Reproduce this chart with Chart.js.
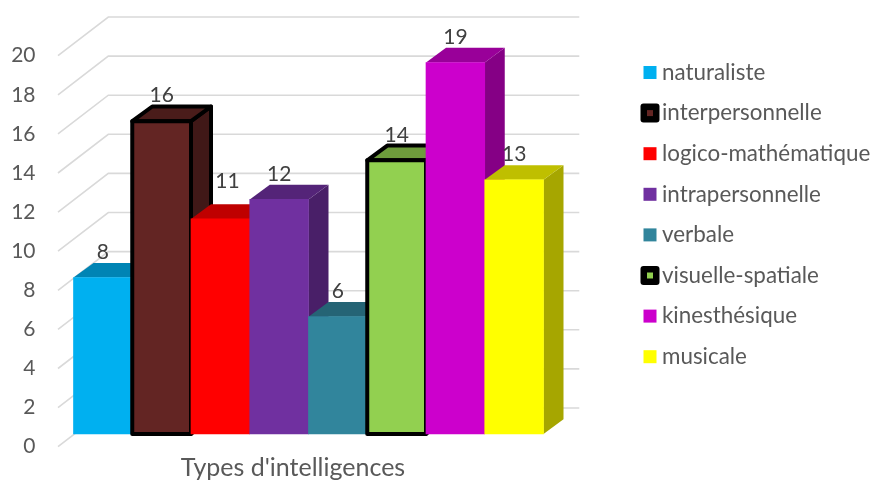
<!DOCTYPE html>
<html>
<head>
<meta charset="utf-8">
<title>Types d'intelligences</title>
<script src="https://cdn.jsdelivr.net/npm/chart.js@4/dist/chart.umd.min.js"></script>
<style>
  html, body { margin: 0; padding: 0; background: #fff; }
  canvas { display: block; }
</style>
</head>
<body>
<canvas id="chart" width="873" height="481"></canvas>
<script>
const categories = ["Types d'intelligences"];
const seriesNames = ['naturaliste', 'interpersonnelle', 'logico-mathématique', 'intrapersonnelle', 'verbale', 'visuelle-spatiale', 'kinesthésique', 'musicale'];
const seriesValues = [8, 16, 11, 12, 6, 14, 19, 13];
const seriesColors = ['#00B0F0', '#632523', '#FF0000', '#7030A0', '#31859C', '#92D050', '#CC00CC', '#FFFF00'];
const outlinedSeries = ['interpersonnelle', 'visuelle-spatiale'];

const fontName = 'Lato, "Open Sans", sans-serif';
const depthX = 20, depthY = 14.7;

function shade(hex, k) {
    const n = parseInt(hex.slice(1), 16);
    const r = Math.round((n >> 16) * k);
    const g = Math.round(((n >> 8) & 255) * k);
    const b = Math.round((n & 255) * k);
    return `rgb(${r},${g},${b})`;
}

function poly(ctx, pts, fill, outlined) {
    ctx.beginPath();
    pts.forEach((p, i) => i ? ctx.lineTo(p[0], p[1]) : ctx.moveTo(p[0], p[1]));
    ctx.closePath();
    ctx.fillStyle = fill;
    ctx.fill();
    if (outlined) {
        ctx.strokeStyle = '#000';
        ctx.lineWidth = 4;
        ctx.lineJoin = 'round';
        ctx.stroke();
    }
}

function drawWalls(chart) {
    const { ctx, chartArea, scales } = chart;
    ctx.strokeStyle = '#D9D9D9';
    ctx.lineWidth = 1.6;
    scales.y.ticks.forEach(tick => {
        const y = scales.y.getPixelForValue(tick.value);
        ctx.beginPath();
        ctx.moveTo(chartArea.left - 15.5, y + 12.7);
        ctx.lineTo(chartArea.left + 34.8, y - 26);
        ctx.lineTo(chartArea.right + 35.8, y - 26);
        ctx.stroke();
    });
}

// Chart.js paints datasets right to left, the boxes have to overlap the other way
const box3dPlugin = {
    id: 'box3d',
    beforeDatasetsDraw(chart) {
        const { ctx } = chart;
        ctx.save();
        drawWalls(chart);
        seriesNames.forEach((name, i) => {
            const meta = chart.getDatasetMeta(i);
            const bar = meta.data[0];
            const outlined = outlinedSeries.includes(name);
            const l = bar.x - bar.width / 2, r = bar.x + bar.width / 2;
            poly(ctx, [[r, bar.base], [r + depthX, bar.base - depthY], [r + depthX, bar.y - depthY], [r, bar.y]], shade(seriesColors[i], 0.65), outlined);
            poly(ctx, [[l, bar.y], [l + depthX, bar.y - depthY], [r + depthX, bar.y - depthY], [r, bar.y]], shade(seriesColors[i], 0.75), outlined);
            meta.controller.draw();
            if (outlined) {
                ctx.strokeStyle = '#000';
                ctx.lineWidth = 4;
                ctx.lineJoin = 'round';
                ctx.strokeRect(l, bar.y, bar.width, bar.base - bar.y);
            }
        });

        ctx.font = '21px ' + fontName;
        ctx.fillStyle = '#404040';
        ctx.textAlign = 'center';
        ctx.textBaseline = 'middle';
        seriesValues.forEach((v, i) => {
            const bar = chart.getDatasetMeta(i).data[0];
            // the "11" label was moved by hand in the original
            const shiftX = i === 2 ? 7 : 0, shiftY = i === 2 ? -12 : 0;
            ctx.fillText(String(v), bar.x + shiftX, bar.y - 25.5 + shiftY);
        });
        ctx.restore();
        return false;
    }
};

const legendPlugin = {
    id: 'sideLegend',
    afterDraw(chart) {
        const { ctx } = chart;
        ctx.save();
        ctx.font = '22.4px ' + fontName;
        ctx.textBaseline = 'middle';
        seriesNames.forEach((name, i) => {
            const y = 72.5 + i * 40.6;
            if (outlinedSeries.includes(name)) {
                ctx.fillStyle = '#000';
                ctx.beginPath();
                ctx.roundRect(640.5, y - 9.5, 19, 19, 3);
                ctx.fill();
                ctx.fillStyle = seriesColors[i];
                ctx.fillRect(647, y - 3, 6, 6);
            } else {
                ctx.fillStyle = seriesColors[i];
                ctx.fillRect(643.5, y - 6.5, 13, 13);
            }
            ctx.fillStyle = '#595959';
            ctx.fillText(name, 662, y);
        });
        ctx.restore();
    }
};

new Chart(document.getElementById('chart').getContext('2d'), {
    type: 'bar',
    data: {
        labels: categories,
        datasets: seriesNames.map((name, i) => ({
            label: name,
            data: [seriesValues[i]],
            backgroundColor: seriesColors[i],
            borderWidth: 0
        }))
    },
    options: {
        responsive: false,
        animation: false,
        layout: { padding: { top: 43, right: 329.5, left: 0, bottom: 0 } },
        plugins: { legend: { display: false }, tooltip: { enabled: false }, title: { display: false } },
        datasets: { bar: { barPercentage: 1, categoryPercentage: 1 } },
        scales: {
            x: {
                grid: { display: false, drawTicks: false },
                border: { display: false },
                ticks: {
                    color: '#595959',
                    font: { family: fontName, size: 25 },
                    labelOffset: -15.5,
                    padding: 19,
                    maxRotation: 0,
                    autoSkip: false
                },
                afterFit(scale) { scale.height = 47; scale.paddingLeft = 0; scale.paddingRight = 0; }
            },
            y: {
                min: 0,
                max: 20,
                grid: { display: false, drawTicks: false },
                border: { display: false },
                ticks: {
                    stepSize: 2,
                    color: '#595959',
                    font: { family: fontName, size: 21 },
                    labelOffset: 12.7,
                    padding: 38
                },
                afterFit(scale) { scale.width = 73.5; scale.paddingTop = 0; scale.paddingBottom = 0; }
            }
        }
    },
    plugins: [box3dPlugin, legendPlugin]
});
</script>
</body>
</html>
